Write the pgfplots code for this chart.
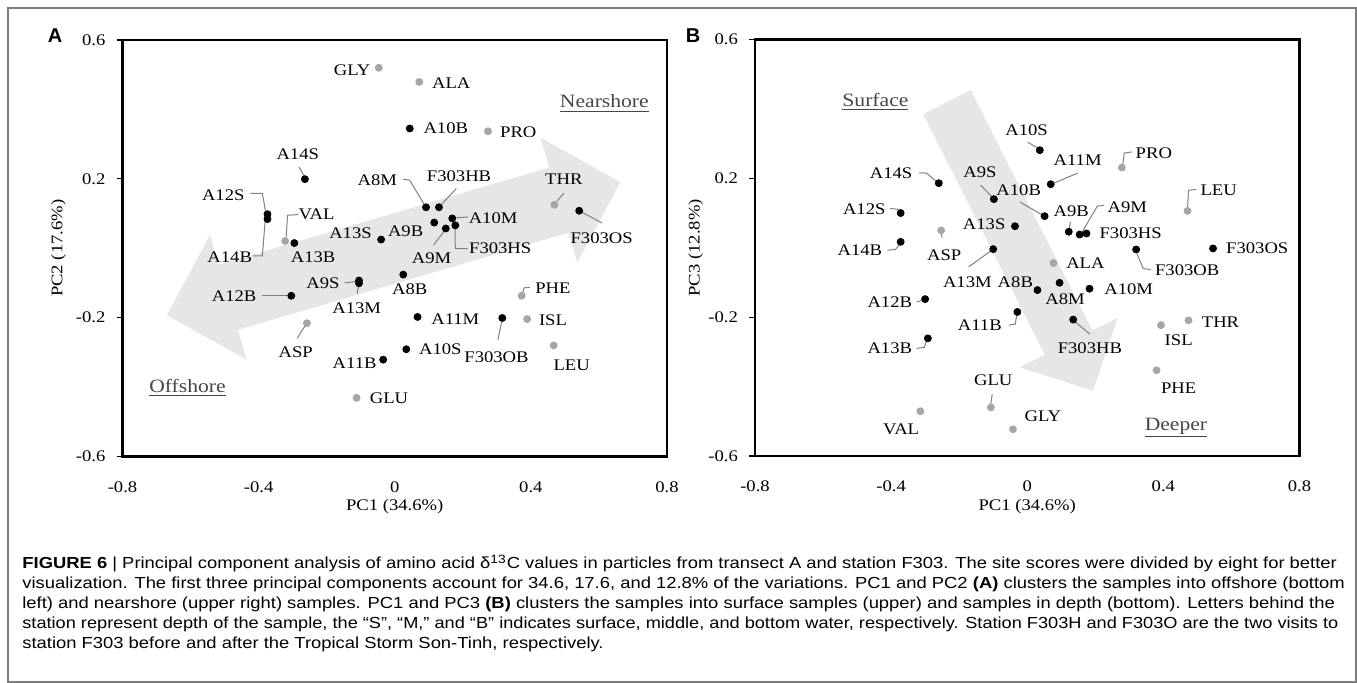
\documentclass[border=0pt]{standalone}
\usepackage{pgfplots}
\pgfplotsset{compat=1.18}
\usepackage{fontspec}
\setmainfont{Liberation Serif}
\newfontfamily\chartfont{Liberation Serif}[FakeStretch=1.15]
\newfontfamily\capfont{Liberation Sans}[FakeStretch=1.15]
\newfontfamily\panelfont{Liberation Sans}
\definecolor{ptgray}{RGB}{166,166,166}
\definecolor{arrowgray}{RGB}{230,230,230}
\definecolor{leadgray}{RGB}{128,128,128}
\definecolor{framegray}{RGB}{125,125,125}
\definecolor{regiongray}{RGB}{70,70,70}
\newcommand\cf{\chartfont\fontsize{8.1}{9.5}\selectfont}
\newcommand\rf{\chartfont\fontsize{9.4}{11}\selectfont}
\newcommand\capf{\capfont\fontsize{8}{10}\selectfont}
\tikzset{
  lab/.style={font=\cf, inner sep=0pt, anchor=center},
  reg/.style={font=\rf, text=regiongray, inner sep=0pt, anchor=center},
  lead/.style={draw=leadgray, line width=0.5pt},
}
\pgfplotsset{
  pcastyle/.style={
    scale only axis, width=272.25pt, height=208.25pt,
    xmin=-0.8, xmax=0.8, ymin=-0.6, ymax=0.6,
    xtick={-0.8,-0.4,0,0.4,0.8}, xticklabels={-0.8,-0.4,0,0.4,0.8},
    ytick={-0.6,-0.2,0.2,0.6}, yticklabels={-0.6,-0.2,0.2,0.6},
    tick align=outside, ytick pos=left, xtick pos=bottom,
    xtick style={draw=none}, ytick style={black, line width=0.6pt},
    major tick length=3pt,
    axis line style={line width=1.1pt},
    tick label style={font=\cf},
    label style={font=\cf},
    xticklabel style={yshift=-6pt},
    yticklabel style={xshift=-2pt},
    xlabel style={at={(axis description cs:0.5,-0.121)}, anchor=center},
    clip=false,
  },
  blk/.style={only marks, mark=*, mark size=1.75pt, mark options={fill=black, draw=black}},
  gry/.style={only marks, mark=*, mark size=1.75pt, mark options={fill=ptgray, draw=ptgray}},
}
\begin{document}
\begin{tikzpicture}
\path[use as bounding box] (0,0) rectangle (678.5pt,341.5pt);
\draw[framegray, line width=0.6pt] (4pt,0.5pt) rectangle (678pt,337.5pt);
\node[font=\panelfont\bfseries\fontsize{10}{12}\selectfont, anchor=center] at (27.5pt,323.5pt) {A};
\node[font=\panelfont\bfseries\fontsize{10}{12}\selectfont, anchor=center] at (346.5pt,323.5pt) {B};

% ---------------- Panel A ----------------
\begin{axis}[pcastyle, at={(61.25pt,113.25pt)}, anchor=south west,
  xlabel={PC1 (34.6\%)}, ylabel={PC2 (17.6\%)},
  ylabel style={at={(axis description cs:-0.1175,0.5)}, anchor=center}]
\addplot[fill=arrowgray, draw=none, forget plot] coordinates {
 (-0.6697,-0.1931) (-0.5429,0.0386) (-0.5174,-0.0473) (0.4541,0.2326) (0.4285,0.3184)
 (0.6629,0.1905) (0.5362,-0.0412) (0.5106,0.0447) (-0.4609,-0.2352) (-0.4353,-0.3210)} --cycle;
\addplot[gry] coordinates {
 (-0.047,0.520) (0.072,0.479) (0.274,0.337) (-0.322,0.021) (0.469,0.125)
 (0.373,-0.137) (0.389,-0.204) (-0.258,-0.216) (0.467,-0.280) (-0.112,-0.431)};
\addplot[blk] coordinates {
 (0.044,0.345) (-0.264,0.199) (-0.374,0.098) (-0.374,0.084) (-0.295,0.015)
 (-0.040,0.025) (0.092,0.118) (0.130,0.118) (0.116,0.074) (0.169,0.086)
 (0.178,0.066) (0.150,0.057) (0.542,0.108) (0.025,-0.076) (-0.105,-0.093)
 (-0.105,-0.101) (-0.304,-0.137) (0.067,-0.198) (0.316,-0.201) (0.034,-0.291)
 (-0.034,-0.321)};
% leaders
\draw[lead] (axis cs:-0.281,0.234) -- (axis cs:-0.266,0.207);
\draw[lead] (axis cs:-0.424,0.158) -- (axis cs:-0.389,0.158) -- (axis cs:-0.380,0.108);
\draw[lead] (axis cs:-0.283,0.097) -- (axis cs:-0.315,0.095) -- (axis cs:-0.319,0.032);
\draw[lead] (axis cs:-0.417,-0.022) -- (axis cs:-0.389,-0.022) -- (axis cs:-0.381,0.076);
\draw[lead] (axis cs:0.025,0.199) -- (axis cs:0.044,0.196) -- (axis cs:0.086,0.127);
\draw[lead] (axis cs:0.181,0.172) -- (axis cs:0.138,0.127);
\draw[lead] (axis cs:0.216,0.090) -- (axis cs:0.181,0.088);
\draw[lead] (axis cs:0.214,-0.001) -- (axis cs:0.178,-0.001) -- (axis cs:0.177,0.059);
\draw[lead] (axis cs:0.114,0.009) -- (axis cs:0.146,0.050);
\draw[lead] (axis cs:0.497,0.159) -- (axis cs:0.476,0.135);
\draw[lead] (axis cs:0.609,0.073) -- (axis cs:0.551,0.103);
\draw[lead] (axis cs:-0.147,-0.100) -- (axis cs:-0.115,-0.096);
\draw[lead] (axis cs:-0.110,-0.131) -- (axis cs:-0.107,-0.108);
\draw[lead] (axis cs:-0.389,-0.137) -- (axis cs:-0.315,-0.137);
\draw[lead] (axis cs:0.376,-0.131) -- (axis cs:0.380,-0.114) -- (axis cs:0.398,-0.113);
\draw[lead] (axis cs:0.303,-0.265) -- (axis cs:0.315,-0.209);
\draw[lead] (axis cs:-0.287,-0.260) -- (axis cs:-0.264,-0.224);
% labels
\node[lab] at (axis cs:-0.125,0.513) {GLY};
\node[lab] at (axis cs:0.166,0.475) {ALA};
\node[lab] at (axis cs:0.150,0.345) {A10B};
\node[lab] at (axis cs:0.363,0.333) {PRO};
\node[lab] at (axis cs:-0.285,0.271) {A14S};
\node[lab] at (axis cs:-0.504,0.153) {A12S};
\node[lab] at (axis cs:-0.230,0.097) {VAL};
\node[lab] at (axis cs:-0.485,-0.025) {A14B};
\node[lab] at (axis cs:-0.240,-0.025) {A13B};
\node[lab] at (axis cs:-0.130,0.044) {A13S};
\node[lab] at (axis cs:0.032,0.049) {A9B};
\node[lab] at (axis cs:-0.051,0.196) {A8M};
\node[lab] at (axis cs:0.189,0.208) {F303HB};
\node[lab] at (axis cs:0.289,0.086) {A10M};
\node[lab] at (axis cs:0.310,-0.001) {F303HS};
\node[lab] at (axis cs:0.108,-0.030) {A9M};
\node[lab] at (axis cs:0.497,0.198) {THR};
\node[lab] at (axis cs:0.608,0.030) {F303OS};
\node[lab] at (axis cs:0.044,-0.119) {A8B};
\node[lab] at (axis cs:-0.211,-0.100) {A9S};
\node[lab] at (axis cs:-0.112,-0.172) {A13M};
\node[lab] at (axis cs:-0.472,-0.137) {A12B};
\node[lab] at (axis cs:0.465,-0.116) {PHE};
\node[lab] at (axis cs:0.178,-0.203) {A11M};
\node[lab] at (axis cs:0.299,-0.313) {F303OB};
\node[lab] at (axis cs:0.465,-0.207) {ISL};
\node[lab] at (axis cs:-0.291,-0.299) {ASP};
\node[lab] at (axis cs:0.134,-0.292) {A10S};
\node[lab] at (axis cs:0.520,-0.337) {LEU};
\node[lab] at (axis cs:-0.118,-0.331) {A11B};
\node[lab] at (axis cs:-0.017,-0.433) {GLU};
\node[reg] at (axis cs:-0.609,-0.403) {\underline{Offshore}};
\node[reg] at (axis cs:0.616,0.417) {\underline{Nearshore}};
\end{axis}

% ---------------- Panel B ----------------
\begin{axis}[pcastyle, at={(377.5pt,113.5pt)}, anchor=south west,
  xlabel={PC1 (34.6\%)}, ylabel={PC3 (12.8\%)},
  ylabel style={at={(axis description cs:-0.109,0.5)}, anchor=center}]
\addplot[fill=arrowgray, draw=none, forget plot] coordinates {
 (-0.1662,0.4542) (0.1914,-0.2387) (0.2657,-0.2020) (0.1932,-0.4121)
 (-0.0226,-0.3447) (0.0517,-0.3081) (-0.3059,0.3849)} --cycle;
\addplot[gry] coordinates {
 (0.278,0.231) (0.471,0.106) (-0.253,0.050) (0.077,-0.044) (0.474,-0.209)
 (0.393,-0.223) (0.380,-0.353) (-0.107,-0.460) (-0.314,-0.471) (-0.042,-0.523)};
\addplot[blk] coordinates {
 (0.037,0.281) (0.069,0.183) (-0.260,0.186) (-0.098,0.140) (-0.372,0.100)
 (0.051,0.091) (-0.036,0.062) (0.122,0.046) (0.154,0.038) (0.174,0.041)
 (-0.372,0.017) (-0.100,-0.004) (0.320,-0.005) (0.546,-0.002) (0.030,-0.122)
 (0.095,-0.101) (0.183,-0.118) (-0.300,-0.148) (-0.029,-0.185) (0.135,-0.207)
 (-0.292,-0.261)};
% leaders
\draw[lead] (axis cs:0.0015,0.304) -- (axis cs:0.030,0.288);
\draw[lead] (axis cs:0.148,0.215) -- (axis cs:0.078,0.186);
\draw[lead] (axis cs:0.281,0.240) -- (axis cs:0.285,0.273) -- (axis cs:0.307,0.276);
\draw[lead] (axis cs:-0.318,0.216) -- (axis cs:-0.296,0.215) -- (axis cs:-0.267,0.191);
\draw[lead] (axis cs:-0.137,0.180) -- (axis cs:-0.103,0.146);
\draw[lead] (axis cs:-0.022,0.132) -- (axis cs:0.043,0.095);
\draw[lead] (axis cs:0.471,0.113) -- (axis cs:0.474,0.1655) -- (axis cs:0.496,0.168);
\draw[lead] (axis cs:-0.403,0.113) -- (axis cs:-0.381,0.111) -- (axis cs:-0.375,0.104);
\draw[lead] (axis cs:0.127,0.075) -- (axis cs:0.123,0.053);
\draw[lead] (axis cs:0.226,0.122) -- (axis cs:0.206,0.120) -- (axis cs:0.161,0.045);
\draw[lead] (axis cs:-0.250,0.029) -- (axis cs:-0.253,0.044);
\draw[lead] (axis cs:-0.411,-0.007) -- (axis cs:-0.387,-0.005) -- (axis cs:-0.374,0.012);
\draw[lead] (axis cs:-0.172,-0.055) -- (axis cs:-0.107,-0.009);
\draw[lead] (axis cs:0.322,-0.017) -- (axis cs:0.341,-0.060) -- (axis cs:0.363,-0.063);
\draw[lead] (axis cs:-0.325,-0.156) -- (axis cs:-0.3065,-0.151);
\draw[lead] (axis cs:-0.0546,-0.223) -- (axis cs:-0.035,-0.220) -- (axis cs:-0.031,-0.194);
\draw[lead] (axis cs:0.184,-0.249) -- (axis cs:0.141,-0.2135);
\draw[lead] (axis cs:-0.325,-0.290) -- (axis cs:-0.3027,-0.287) -- (axis cs:-0.296,-0.269);
\draw[lead] (axis cs:-0.103,-0.4216) -- (axis cs:-0.107,-0.450);
% labels
\node[reg] at (axis cs:-0.446,0.420) {\underline{Surface}};
\node[reg] at (axis cs:0.437,-0.519) {\underline{Deeper}};
\node[lab] at (axis cs:-0.002,0.338) {A10S};
\node[lab] at (axis cs:0.148,0.252) {A11M};
\node[lab] at (axis cs:0.372,0.273) {PRO};
\node[lab] at (axis cs:-0.400,0.2135) {A14S};
\node[lab] at (axis cs:-0.139,0.218) {A9S};
\node[lab] at (axis cs:-0.025,0.1655) {A10B};
\node[lab] at (axis cs:0.5625,0.1655) {LEU};
\node[lab] at (axis cs:-0.479,0.110) {A12S};
\node[lab] at (axis cs:0.1295,0.106) {A9B};
\node[lab] at (axis cs:0.294,0.1157) {A9M};
\node[lab] at (axis cs:-0.1265,0.0676) {A13S};
\node[lab] at (axis cs:0.304,0.041) {F303HS};
\node[lab] at (axis cs:-0.244,-0.0216) {ASP};
\node[lab] at (axis cs:-0.492,-0.007) {A14B};
\node[lab] at (axis cs:-0.176,-0.098) {A13M};
\node[lab] at (axis cs:0.470,-0.065) {F303OB};
\node[lab] at (axis cs:0.676,-0.002) {F303OS};
\node[lab] at (axis cs:0.171,-0.0455) {ALA};
\node[lab] at (axis cs:-0.035,-0.098) {A8B};
\node[lab] at (axis cs:0.111,-0.149) {A8M};
\node[lab] at (axis cs:0.298,-0.120) {A10M};
\node[lab] at (axis cs:-0.404,-0.156) {A12B};
\node[lab] at (axis cs:-0.1395,-0.223) {A11B};
\node[lab] at (axis cs:0.184,-0.290) {F303HB};
\node[lab] at (axis cs:0.568,-0.2135) {THR};
\node[lab] at (axis cs:0.445,-0.266) {ISL};
\node[lab] at (axis cs:-0.404,-0.290) {A13B};
\node[lab] at (axis cs:0.445,-0.405) {PHE};
\node[lab] at (axis cs:-0.100,-0.383) {GLU};
\node[lab] at (axis cs:0.046,-0.485) {GLY};
\node[lab] at (axis cs:-0.3705,-0.523) {VAL};
\end{axis}

% ---------------- Caption ----------------
\node[anchor=base west, inner sep=0pt, font=\capf] at (11pt,57pt) {\textbf{FIGURE 6} | Principal component analysis of amino acid δ\textsuperscript{13}C values in particles from transect A and station F303. The site scores were divided by eight for better};
\node[anchor=base west, inner sep=0pt, font=\capf] at (11pt,47pt) {visualization. The first three principal components account for 34.6, 17.6, and 12.8\% of the variations. PC1 and PC2 \textbf{(A)} clusters the samples into offshore (bottom};
\node[anchor=base west, inner sep=0pt, font=\capf] at (11pt,37pt) {left) and nearshore (upper right) samples. PC1 and PC3 \textbf{(B)} clusters the samples into surface samples (upper) and samples in depth (bottom). Letters behind the};
\node[anchor=base west, inner sep=0pt, font=\capf, xscale=0.988, transform shape] at (11pt,27pt) {station represent depth of the sample, the “S”, “M,” and “B” indicates surface, middle, and bottom water, respectively. Station F303H and F303O are the two visits to};
\node[anchor=base west, inner sep=0pt, font=\capf] at (11pt,17pt) {station F303 before and after the Tropical Storm Son-Tinh, respectively.};
\end{tikzpicture}
\end{document}
